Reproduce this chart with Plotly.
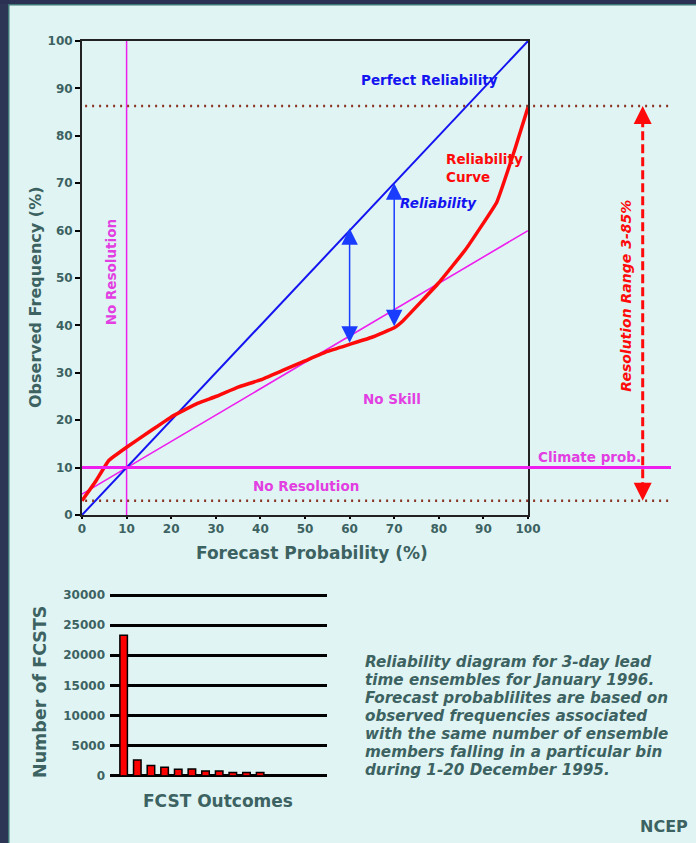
import plotly.graph_objects as go

W, H = 696, 843

# ---------------- data ----------------
axis_ticks = [0, 10, 20, 30, 40, 50, 60, 70, 80, 90, 100]
fcst_prob = [0, 3, 6, 10, 15, 20, 26, 30, 35, 40, 45, 50, 55, 60, 65, 70, 72, 80, 86, 93, 97, 100]
obs_freq = [3, 7, 11.5, 14.3, 17.5, 20.7, 23.6, 25, 27, 28.5, 30.5, 32.5, 34.5, 36, 37.5, 39.5, 41, 49, 56, 66, 77, 86]
perfect_x = [0, 100]
perfect_y = [0, 100]
noskill_x = [0, 100]
noskill_y = [4.4, 60]
climate_prob = 10
res_low, res_high = 3, 86.3
arrow_x = [60, 70]
arrow_low = [36, 39.5]
arrow_high = [60.5, 70]

bin_index = list(range(11))
fcst_counts = [23300, 2600, 1700, 1400, 1050, 1100, 800, 800, 550, 550, 550]
count_ticks = [0, 5000, 10000, 15000, 20000, 25000, 30000]
count_tick_labels = ["0", "5000", "10000", "15000", "20000", "25000", "30000"]

caption_lines = [
    "Reliability diagram for 3-day lead",
    "time ensembles for January 1996.",
    "Forecast probablilites are based on",
    "observed frequencies associated",
    "with the same number of ensemble",
    "members falling in a particular bin",
    "during 1-20 December 1995.",
]

# ---------------- styling ----------------
BG = "#e0f5f3"
TXT = "#3d6262"
MAG = "#ee1eee"
MAGT = "#e23ee2"
BLUE = "#1414f0"
RED = "#ff0a0a"
BROWN = "#8a3424"
FONT = "DejaVu Sans"


def px(x):
    return x / W


def py(y):
    return 1 - y / H


# main plot pixel box
X0, X1, Y0, Y1 = 82, 528, 515, 41
XEXT = 671
x3max = 100 * (XEXT - X0) / (X1 - X0)
res_x = 100 * (642.7 - X0) / (X1 - X0)

# histogram pixel box (0 -> 775.7, 30000 -> 595)
B0, B30 = 775.7, 595
count_max = 30400
b_top = B0 - (B0 - B30) * count_max / 30000

fig = go.Figure()

# --- main subplot traces ---
fig.add_trace(go.Scatter(x=[climate_prob, climate_prob], y=[0, 100], mode="lines",
                         line=dict(color=MAG, width=1.5), xaxis="x", yaxis="y", hoverinfo="skip"))
fig.add_trace(go.Scatter(x=noskill_x, y=noskill_y, mode="lines",
                         line=dict(color=MAG, width=1.6), xaxis="x", yaxis="y"))
fig.add_trace(go.Scatter(x=perfect_x, y=perfect_y, mode="lines",
                         line=dict(color=BLUE, width=2), xaxis="x", yaxis="y"))
fig.add_trace(go.Scatter(x=fcst_prob, y=obs_freq, mode="lines",
                         line=dict(color=RED, width=3.5, shape="spline", smoothing=0.25), xaxis="x", yaxis="y"))

# --- extended overlay traces (x3 shares pixel scale with x) ---
fig.add_trace(go.Scatter(x=[0.7, x3max], y=[res_high, res_high], mode="lines",
                         line=dict(color=BROWN, width=2.4, dash="2px,5px"), xaxis="x3", yaxis="y"))
fig.add_trace(go.Scatter(x=[0.7, x3max], y=[res_low, res_low], mode="lines",
                         line=dict(color=BROWN, width=2.4, dash="2px,5px"), xaxis="x3", yaxis="y"))
fig.add_trace(go.Scatter(x=[0, x3max], y=[climate_prob, climate_prob], mode="lines",
                         line=dict(color=MAG, width=3), xaxis="x3", yaxis="y"))
fig.add_trace(go.Scatter(x=[res_x, res_x], y=[res_low + 2, res_high - 2], mode="lines",
                         line=dict(color=RED, width=3, dash="9px,4px"), xaxis="x3", yaxis="y"))

# --- histogram ---
fig.add_trace(go.Bar(x=bin_index, y=fcst_counts, width=0.55,
                     marker=dict(color="#ff0000", line=dict(color="black", width=1.5)),
                     xaxis="x2", yaxis="y2"))

annotations = []

# blue double arrows (reliability)
for xa, lo, hi in zip(arrow_x, arrow_low, arrow_high):
    annotations.append(dict(x=xa, y=hi, ax=xa, ay=lo, xref="x", yref="y", axref="x", ayref="y",
                            text="", showarrow=True, arrowside="end+start",
                            arrowhead=2, startarrowhead=2, arrowsize=2.2, startarrowsize=2.2,
                            arrowwidth=1.5, arrowcolor="#1a3cff", standoff=0, startstandoff=0))

# red resolution arrowheads
annotations.append(dict(x=res_x, y=res_high, ax=res_x, ay=res_high - 4, xref="x3", yref="y",
                        axref="x3", ayref="y", text="", showarrow=True, arrowhead=2,
                        arrowsize=1.2, arrowwidth=3, arrowcolor=RED, standoff=0))
annotations.append(dict(x=res_x, y=res_low, ax=res_x, ay=res_low + 4, xref="x3", yref="y",
                        axref="x3", ayref="y", text="", showarrow=True, arrowhead=2,
                        arrowsize=1.2, arrowwidth=3, arrowcolor=RED, standoff=0))


def label(text, x, y, color, size=13.5, xref="x", yref="y", italic=False, angle=0,
          xanchor="center", align="center", weight="bold"):
    annotations.append(dict(text=text, x=x, y=y, xref=xref, yref=yref, showarrow=False,
                            xanchor=xanchor, yanchor="middle", textangle=angle, align=align,
                            font=dict(family=FONT, size=size, color=color, weight=weight,
                                      style="italic" if italic else "normal")))


label("Perfect Reliability", 78, 91.8, BLUE)
label("Reliability<br>Curve", 81.2, 73.2, RED, xanchor="left", align="left")
label("Reliability", 79.9, 65.8, BLUE, italic=True)
label("No Skill", 69.5, 24.5, MAGT)
label("No Resolution", 50.2, 6.1, MAGT)
label("No Resolution", 6.5, 51.2, MAGT, angle=-90)
label("Climate prob.", 113.7, 12.2, MAGT, xref="x3")
label("Resolution Range 3-85%", 121.9, 46.2, RED, xref="x3", italic=True, angle=-90, size=14)

# axis titles
label("Forecast Probability (%)", px(312), py(553), TXT, size=17, xref="paper", yref="paper")
label("Observed Frequency (%)", px(35), py(297), TXT, size=16, xref="paper", yref="paper", angle=-90)
label("Number of FCSTS", px(40), py(692), TXT, size=17.5, xref="paper", yref="paper", angle=-90)
label("FCST Outcomes", px(218), py(801), TXT, size=17, xref="paper", yref="paper")

# caption
for i, line in enumerate(caption_lines):
    label(line, px(363), py(662 + 18 * i), TXT, size=15.2, xref="paper", yref="paper",
          italic=True, xanchor="left", align="left")

label("NCEP", px(690), py(826), TXT, size=16, xref="paper", yref="paper", xanchor="right")

shapes = [
    dict(type="rect", xref="paper", yref="paper", x0=0, x1=px(8), y0=0, y1=1,
         fillcolor="#2e3656", line=dict(width=0), layer="above"),
    dict(type="rect", xref="paper", yref="paper", x0=px(8), x1=px(9.5), y0=0, y1=py(4),
         fillcolor="#3f7676", line=dict(width=0), layer="above"),
    dict(type="rect", xref="paper", yref="paper", x0=0, x1=1, y0=py(4), y1=1,
         fillcolor="#2a3152", line=dict(width=0), layer="above"),
    dict(type="rect", xref="paper", yref="paper", x0=px(8), x1=1, y0=py(5.5), y1=py(4),
         fillcolor="#3f7676", line=dict(width=0), layer="above"),
]

tickfont = dict(family=FONT, size=12, color=TXT, weight="bold")

fig.update_layout(
    width=W, height=H, template="none",
    margin=dict(l=0, r=0, t=0, b=0, pad=0),
    paper_bgcolor=BG, plot_bgcolor="rgba(0,0,0,0)",
    showlegend=False,
    xaxis=dict(domain=[px(X0), px(X1)], range=[0, 100], anchor="y",
               tickvals=axis_ticks, ticks="outside", ticklen=2, tickwidth=1.5, tickcolor="black",
               showline=True, mirror=True, linecolor="#222222", linewidth=2,
               showgrid=False, zeroline=False, tickfont=tickfont, automargin=False),
    yaxis=dict(domain=[py(Y0), py(Y1)], range=[0, 100], anchor="x",
               tickvals=axis_ticks, ticks="outside", ticklen=5, tickwidth=1.5, tickcolor="black",
               showline=True, mirror=True, linecolor="#222222", linewidth=2,
               showgrid=False, zeroline=False, tickfont=tickfont, automargin=False),
    xaxis3=dict(domain=[px(X0), px(XEXT)], range=[0, x3max], anchor="y", visible=False,
                automargin=False),
    xaxis2=dict(domain=[px(110), px(327)], range=[-1, 14.9], anchor="y2", visible=False,
                automargin=False),
    yaxis2=dict(domain=[py(B0), py(b_top)], range=[0, count_max], anchor="x2",
                tickvals=count_ticks, ticktext=count_tick_labels, ticks="", showline=False,
                showgrid=True, gridcolor="black", gridwidth=3,
                zeroline=True, zerolinecolor="black", zerolinewidth=3,
                tickfont=tickfont, ticklabelstandoff=4, automargin=False),
    annotations=annotations,
    shapes=shapes,
)

fig.write_html("out.html")
